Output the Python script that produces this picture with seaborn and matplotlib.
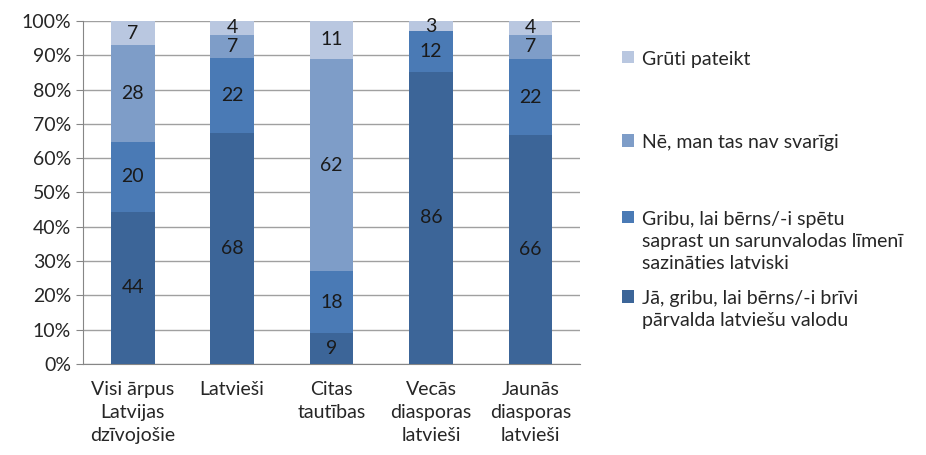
import numpy as np
import pandas as pd
import seaborn as sns
import matplotlib.pyplot as plt
from matplotlib.patches import Patch

# data (percent)
groups = ["Visi ārpus\nLatvijas\ndzīvojošie", "Latvieši", "Citas\ntautības",
          "Vecās\ndiasporas\nlatvieši", "Jaunās\ndiasporas\nlatvieši"]
responses = ["Jā, gribu, lai bērns/-i brīvi\npārvalda latviešu valodu",
             "Gribu, lai bērns/-i spētu\nsaprast un sarunvalodas līmenī\nsazināties latviski",
             "Nē, man tas nav svarīgi",
             "Grūti pateikt"]
ja = [44, 68, 9, 86, 66]
gribu = [20, 22, 18, 12, 22]
ne = [28, 7, 62, 0, 7]
gruti = [7, 4, 11, 3, 4]
colors = ["#3C6598", "#4A7AB5", "#7E9DC8", "#B9C7E0"]

sns.set_style("white")
plt.rcParams['font.family'] = ['Lato', 'DejaVu Sans']
plt.rcParams['font.size'] = 14

fig = plt.figure(figsize=(9.26, 4.55), dpi=100)
ax = fig.add_axes([0.0896, 0.2, 0.537, 0.754])

# 100% stacked: plot cumulative tops from the top segment down
series = [ja, gribu, ne, gruti]
totals = np.sum(np.array(series), axis=0)
cum = np.zeros(5)
bottoms = []
for s in series:
    bottoms.append(cum.copy())
    cum = cum + np.array(s)
for i in range(3, -1, -1):
    top = (bottoms[i] + np.array(series[i])) / totals
    sns.barplot(x=groups, y=top, color=colors[i], width=0.44, ax=ax,
                saturation=1, linewidth=0, zorder=3 + (3 - i))

# labels centred in each segment
for i, s in enumerate(series):
    for j, v in enumerate(s):
        if v == 0:
            continue
        mid = (bottoms[i][j] + v / 2) / totals[j]
        ax.text(j, mid, str(v), ha='center', va='center', fontsize=14,
                color='#1a1a1a', zorder=10)

ax.set_ylim(0, 1)
ax.set_xlim(-0.5, 4.5)
ax.set_yticks(np.arange(0, 1.01, 0.1))
ax.set_yticklabels([f"{int(round(t * 100))}%" for t in np.arange(0, 1.01, 0.1)])
ax.yaxis.grid(True, color='#A0A0A0', linewidth=1, zorder=0)
ax.set_axisbelow(True)
for side in ['top', 'right']:
    ax.spines[side].set_visible(False)
for side in ['left', 'bottom']:
    ax.spines[side].set_color('#868686')
ax.set_xticks(np.arange(-0.5, 4.6, 1), minor=True)
ax.tick_params(axis='x', which='major', length=0, pad=12, labelsize=14)
ax.tick_params(axis='x', which='minor', length=6, color='#868686', direction='out')
ax.tick_params(axis='y', length=5, color='#868686', left=True, direction='out', labelsize=14)
for t in ax.get_xticklabels():
    t.set_linespacing(1.45)
ax.set_xlabel("")
ax.set_ylabel("")

# legend entries spread down the right side
legend_tops = [0.362, 0.536, 0.705, 0.888]
for i in range(4):
    lg = fig.legend(handles=[Patch(facecolor=colors[i], edgecolor='none')],
                    labels=[responses[i]], loc='upper left',
                    bbox_to_anchor=(0.672, legend_tops[i]), frameon=False,
                    handlelength=0.6, handleheight=0.6, handletextpad=0.4,
                    borderpad=0, borderaxespad=0, fontsize=14)
    for t in lg.get_texts():
        t.set_linespacing(1.35)
    # handle sits beside the first line, as in the original
    for col in lg._legend_handle_box.get_children():
        for hp in col.get_children():
            hp.align = 'top'

fig.savefig("out.png", dpi=100)
